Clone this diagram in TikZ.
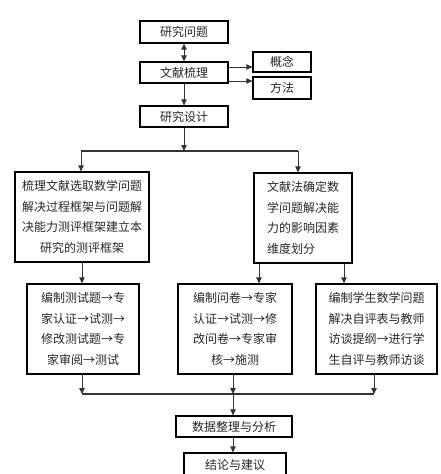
\documentclass[tikz,border=0pt]{standalone}
\usepackage{fontspec}
\setmainfont{Noto Sans CJK SC}
\usetikzlibrary{arrows.meta}
\begin{document}
\begin{tikzpicture}[x=1pt,y=-1pt,
  box/.style={draw=black,line width=1.3pt,inner sep=0pt,anchor=center,
    font=\fontsize{12}{20.5}\selectfont,text=black!85},
  conn/.style={draw=black!80,line width=0.8pt},
  arr/.style={conn,-{Triangle[length=6pt,width=5.5pt]}},
  darr/.style={conn,{Triangle[length=6pt,width=5.5pt]}-{Triangle[length=6pt,width=5.5pt]}}]
\useasboundingbox (0,0) rectangle (440,474);
% top column
\node[box,minimum width=88pt,minimum height=22pt] (wt) at (184,32) {研究问题};
\node[box,minimum width=88pt,minimum height=21pt] (wx) at (184,72.5) {文献梳理};
\node[box,minimum width=58pt,minimum height=20pt] (gn) at (282,62) {概念};
\node[box,minimum width=58pt,minimum height=22pt] (fm) at (282,88) {方法};
\node[box,minimum width=88pt,minimum height=21pt] (sj) at (184,116.5) {研究设计};
% second row
\node[box,minimum width=134pt,minimum height=90pt,align=center] (L) at (82,217)
  {梳理文献选取数学问题\\解决过程框架与问题解\\决能力测评框架建立本\\研究的测评框架};
\node[box,minimum width=98pt,minimum height=90pt,align=left] (R) at (303,218)
  {文献法确定数\\学问题解决能\\力的影响因素\\维度划分};
% third row
\node[box,minimum width=112pt,minimum height=90pt,align=center] (A) at (83,329)
  {编制测试题→专\\家认证→试测→\\修改测试题→专\\家审阅→测试};
\node[box,minimum width=114pt,minimum height=90pt,align=center] (B) at (235,329)
  {编制问卷→专家\\认证→试测→修\\改问卷→专家审\\核→施测};
\node[box,minimum width=121pt,minimum height=90pt,align=center] (C) at (376.5,329)
  {编制学生数学问题\\解决自评表与教师\\访谈提纲→进行学\\生自评与教师访谈};
% bottom
\node[box,minimum width=116pt,minimum height=21pt] (D) at (234,426.5) {数据整理与分析};
\node[box,minimum width=102pt,minimum height=24pt] (E) at (235,465) {结论与建议};
% bus coordinates
\coordinate (b1) at (184,151);
\coordinate (b1l) at (81,151);
\coordinate (b1r) at (298,151);
\coordinate (b2l) at (82,394);
\coordinate (b2m) at (233,394);
\coordinate (b2r) at (374,394);
% connectors
\draw[darr] (wt.south) -- (wx.north);
\draw[arr] ([yshift=-5pt]gn.west -| wx.east) -- ([yshift=-5pt]gn.west);
\draw[arr] ([yshift=7pt]fm.west -| wx.east) -- ([yshift=7pt]fm.west);
\draw[arr] (wx.south) -- (sj.north);
\draw[arr] (sj.south) -- (b1);
\draw[conn,line width=1.2pt] (b1l) -- (b1r);
\draw[arr] (b1l) -- (b1l |- L.north);
\draw[arr] (b1r) -- (b1r |- R.north);
\draw[arr] (L.south) -- (L.south |- A.north);
\draw[arr] ([xshift=-44pt]R.south) -- ([xshift=-44pt]R.south |- B.north);
\draw[arr] ([xshift=41pt]R.south) -- ([xshift=41pt]R.south |- C.north);
\draw[arr] (b2l |- A.south) -- (b2l);
\draw[arr] (b2m |- B.south) -- (b2m);
\draw[arr] (b2r |- C.south) -- (b2r);
\draw[conn,line width=1.2pt] (b2l) -- (b2r);
\draw[arr] (b2m) -- (b2m |- D.north);
\draw[arr] (b2m |- D.south) -- (b2m |- E.north);
\end{tikzpicture}
\end{document}
